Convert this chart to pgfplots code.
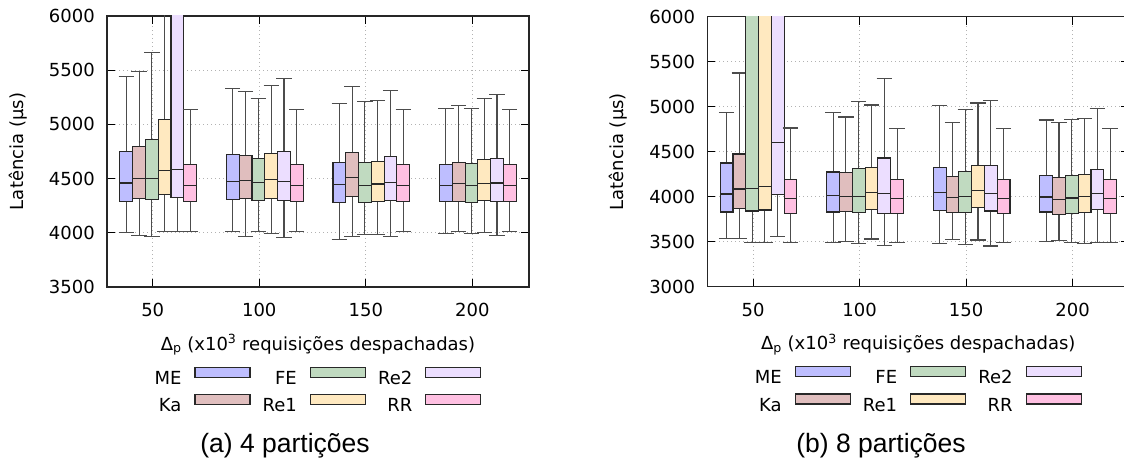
\documentclass[border=0pt]{standalone}
\usepackage{fontspec}
\setmainfont{DejaVu Sans}
\newfontfamily\capfont{Liberation Sans}
\usepackage{pgfplots}
\usepackage{pgfplotstable}
\pgfplotsset{compat=1.18}
\usepgfplotslibrary{statistics}

\definecolor{cME}{RGB}{190,190,255}
\definecolor{cKa}{RGB}{224,190,190}
\definecolor{cFE}{RGB}{192,218,192}
\definecolor{cRe}{RGB}{255,233,192}
\definecolor{cRf}{RGB}{236,222,255}
\definecolor{cRR}{RGB}{255,192,226}
\definecolor{bord}{RGB}{40,40,40}

\newcommand\cf{\fontsize{18}{21}\selectfont}

% rows: groups 50,100,150,200 x series ME Ka FE Re1 Re2 RR
\pgfplotstableread{
lw lq med uq uw
4000 4288 4458 4750 5443
3974 4319 4498 4793 5492
3965 4307 4498 4861 5664
4008 4356 4575 5046 6600
4008 4328 4587 7000 9000
4008 4288 4439 4630 5135
4014 4307 4473 4719 5329
3968 4316 4482 4713 5304
4014 4294 4464 4682 5236
3996 4319 4491 4735 5357
3959 4297 4470 4753 5427
4008 4288 4439 4630 5135
3937 4282 4445 4645 5190
3965 4331 4507 4741 5353
3986 4282 4436 4651 5212
3983 4291 4451 4658 5218
3962 4294 4464 4704 5310
4008 4288 4439 4627 5135
3993 4288 4439 4630 5144
4014 4291 4454 4648 5178
3993 4282 4436 4636 5144
4002 4294 4454 4676 5236
3977 4291 4458 4688 5276
4008 4288 4439 4627 5135
}\fourp

\pgfplotstableread{
lw lq med uq uw
3537 3830 4030 4374 4933
3533 3870 4085 4474 5374
3496 3841 4093 6800 8000
3496 3852 4115 6800 8000
3556 4026 4604 6500 8000
3496 3815 3978 4196 4763
3493 3830 4015 4274 4933
3507 3837 4000 4267 4885
3481 3822 4004 4311 5059
3530 3859 4048 4326 5019
3459 3815 4037 4430 5311
3496 3815 3978 4193 4759
3481 3848 4048 4322 5011
3522 3826 3989 4226 4822
3467 3822 4000 4278 4970
3519 3881 4067 4348 5041
3452 3841 4037 4344 5070
3496 3815 3978 4193 4759
3500 3830 3996 4237 4852
3511 3804 3967 4211 4822
3496 3815 3985 4233 4859
3478 3826 4000 4248 4870
3489 3859 4037 4307 4981
3496 3815 3978 4193 4759
}\eightp

\pgfplotsset{
  lat/.style={
    scale only axis, width=422pt,
    xmin=28.55, xmax=226.6,
    xtick={50,100,150,200},
    ytick distance=500,
    tick align=inside, tick pos=both,
    major tick length=8pt,
    tick style={line width=1pt, black},
    axis line style={line width=1.4pt, black!85},
    grid=major,
    major grid style={line width=0.9pt, gray!60, dash pattern=on 1pt off 3pt},
    /pgf/number format/assume math mode=true,
    /pgf/number format/set thousands separator={},
    tick label style={font=\cf},
    yticklabel style={inner sep=0pt, xshift=-12pt},
    xticklabel style={inner sep=0pt, yshift=-16pt},
    label style={font=\cf},
    xlabel={Δ\textsubscript{p} (x10\textsuperscript{3} requisições despachadas)},
    ylabel={Latência (µs)},
    xlabel style={at={(axis description cs:0.5,-0.214)}, anchor=center},
    cycle list={
      {draw=bord, fill=cME},
      {draw=bord, fill=cKa},
      {draw=bord, fill=cFE},
      {draw=bord, fill=cRe},
      {draw=bord, fill=cRf},
      {draw=bord, fill=cRR}},
    boxplot/draw direction=y,
    boxplot/box extend=6,
    boxplot/whisker extend=7.2,
    boxplot/every box/.style={line width=1.1pt},
    boxplot/every whisker/.style={draw=black!70, line width=1.1pt},
    boxplot/every median/.style={draw=bord, line width=1.3pt},
    legend columns=2,
    transpose legend,
    legend plot pos=right,
    legend cell align=right,
    legend style={draw=none, fill=none, font=\cf,
      at={(0.5,-0.38)}, anchor=center,
      nodes={inner sep=0pt},
      row sep=8pt,
      /tikz/every odd column/.append style={column sep=13pt},
      /tikz/every even column/.append style={column sep=12pt}},
    legend image code/.code={\draw[##1, line width=1.2pt] (0pt,1.5pt) rectangle (55pt,11.5pt);},
  }
}

% one box per table row; values are expanded right away
\newcommand\boxes[1]{%
  \pgfplotsinvokeforeach{0,...,23}{
    \pgfplotstablegetelem{##1}{lw}\of#1\let\vlw\pgfplotsretval
    \pgfplotstablegetelem{##1}{lq}\of#1\let\vlq\pgfplotsretval
    \pgfplotstablegetelem{##1}{med}\of#1\let\vmed\pgfplotsretval
    \pgfplotstablegetelem{##1}{uq}\of#1\let\vuq\pgfplotsretval
    \pgfplotstablegetelem{##1}{uw}\of#1\let\vuw\pgfplotsretval
    \pgfmathsetmacro\vpos{50*(1+floor(##1/6))-12.4+6*mod(##1,6)}
    \edef\doplot{\noexpand\addplot+[boxplot prepared={
        draw position=\vpos,
        lower whisker=\vlw, lower quartile=\vlq, median=\vmed,
        upper quartile=\vuq, upper whisker=\vuw}] coordinates {};}
    \doplot
  }}

% legend filled column by column: ME Ka | FE Re1 | Re2 RR
\newcommand\keys{%
  \addlegendimage{draw=bord, fill=cME}\addlegendentry{ME}
  \addlegendimage{draw=bord, fill=cKa}\addlegendentry{Ka}
  \addlegendimage{draw=bord, fill=cFE}\addlegendentry{FE}
  \addlegendimage{draw=bord, fill=cRe}\addlegendentry{Re1}
  \addlegendimage{draw=bord, fill=cRf}\addlegendentry{Re2}
  \addlegendimage{draw=bord, fill=cRR}\addlegendentry{RR}}

\begin{document}
\begin{tikzpicture}
\useasboundingbox (0pt,0pt) rectangle (1124pt,462pt);

\begin{axis}[lat, at={(107pt,175pt)}, anchor=south west, height=271pt,
  ymin=3500, ymax=6000,
  ylabel style={at={(axis description cs:-0.2097,0.5)}, anchor=center}]
  \boxes{\fourp}
  \keys
\end{axis}

\begin{axis}[lat, at={(707.3pt,175.3pt)}, anchor=south west, height=270pt,
  ymin=3000, ymax=6000,
  ylabel style={at={(axis description cs:-0.2116,0.5)}, anchor=center}]
  \boxes{\eightp}
  \keys
\end{axis}

\node[font=\capfont\fontsize{26.5}{30}\selectfont, anchor=base] at (285pt,9.3pt) {(a) 4 partições};
\node[font=\capfont\fontsize{26.5}{30}\selectfont, anchor=base] at (881pt,9pt) {(b) 8 partições};
\end{tikzpicture}
\end{document}
